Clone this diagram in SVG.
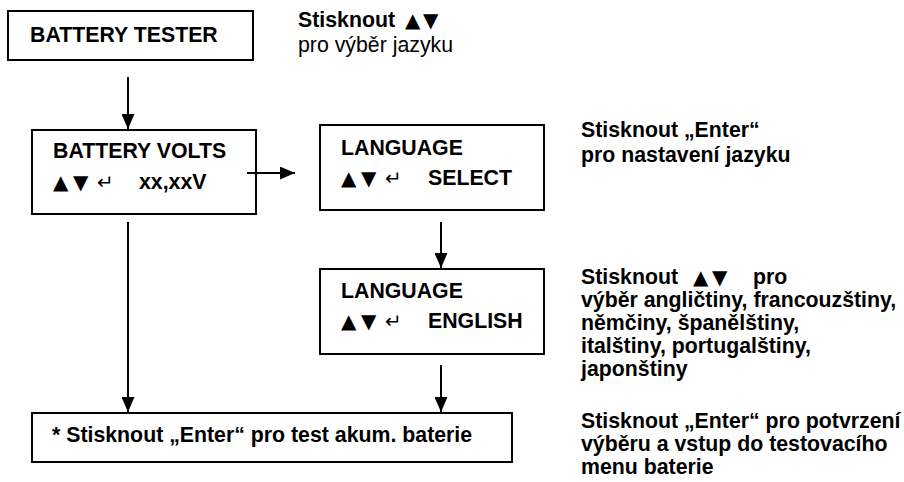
<svg xmlns="http://www.w3.org/2000/svg" width="904" height="482" viewBox="0 0 904 482">
<style>
.box{fill:none;stroke:#000;stroke-width:2}
.t{font-family:"Liberation Sans",Arial,"DejaVu Sans",sans-serif;font-size:21.3px;font-weight:bold;fill:#000}
.r{font-weight:normal}
.sym{font-family:"DejaVu Sans","Liberation Sans",sans-serif;font-size:20px;font-weight:normal}
.conn{stroke:#000;stroke-width:2;fill:none}
</style>
<defs>
<marker id="ah" markerUnits="userSpaceOnUse" viewBox="0 0 15 13" refX="15" refY="6.5" markerWidth="15" markerHeight="13" orient="auto">
<path d="M0,0 L15,6.5 L0,13 Z" fill="#000"/>
</marker>
</defs>
<rect width="904" height="482" fill="#fff"/>
<g id="battery-tester">
<rect class="box" x="8" y="11" width="245" height="49"/>
<text class="t" x="30" y="42">BATTERY TESTER</text>
</g>
<g id="battery-volts">
<rect class="box" x="32" y="130" width="224" height="84"/>
<text class="t" x="53" y="158">BATTERY VOLTS</text>
<text class="t" y="189"><tspan class="sym" x="53">▲</tspan><tspan class="sym" x="73">▼</tspan><tspan class="sym" x="97">↵</tspan><tspan x="139">xx,xxV</tspan></text>
</g>
<g id="language-select">
<rect class="box" x="320" y="125" width="224" height="85"/>
<text class="t" x="341" y="155">LANGUAGE</text>
<text class="t" y="185"><tspan class="sym" x="341">▲</tspan><tspan class="sym" x="361">▼</tspan><tspan class="sym" x="385">↵</tspan><tspan x="428">SELECT</tspan></text>
</g>
<g id="language-english">
<rect class="box" x="320" y="269" width="224" height="85"/>
<text class="t" x="341" y="298">LANGUAGE</text>
<text class="t" y="328"><tspan class="sym" x="341">▲</tspan><tspan class="sym" x="361">▼</tspan><tspan class="sym" x="385">↵</tspan><tspan x="428">ENGLISH</tspan></text>
</g>
<g id="test-battery">
<rect class="box" x="32" y="413" width="480" height="49"/>
<text class="t" x="52" y="442">* Stisknout „Enter“ pro test akum. baterie</text>
</g>
<g id="notes">
<text class="t" x="298" y="27">Stisknout <tspan class="sym" x="405">▲</tspan><tspan class="sym" x="423">▼</tspan></text>
<text class="t r" x="298" y="52">pro výběr jazyku</text>
<text class="t" x="581" y="137">Stisknout „Enter“</text>
<text class="t" x="581" y="162">pro nastavení jazyku</text>
<text class="t" x="581" y="284">Stisknout <tspan class="sym" x="693">▲</tspan><tspan class="sym" x="712">▼</tspan><tspan x="753">pro</tspan></text>
<text class="t" x="581" y="307">výběr angličtiny, francouzštiny,</text>
<text class="t" x="581" y="330">němčiny, španělštiny,</text>
<text class="t" x="581" y="353">italštiny, portugalštiny,</text>
<text class="t" x="581" y="376">japonštiny</text>
<text class="t" x="581" y="428">Stisknout „Enter“ pro potvrzení</text>
<text class="t" x="581" y="451">výběru a vstup do testovacího</text>
<text class="t" x="581" y="474">menu baterie</text>
</g>
<g id="connectors">
<line class="conn" x1="128" y1="77" x2="128" y2="129" marker-end="url(#ah)"/>
<line class="conn" x1="247" y1="173" x2="295" y2="173" marker-end="url(#ah)"/>
<line class="conn" x1="441" y1="222" x2="441" y2="268" marker-end="url(#ah)"/>
<line class="conn" x1="128" y1="222" x2="128" y2="412" marker-end="url(#ah)"/>
<line class="conn" x1="441" y1="365" x2="441" y2="412" marker-end="url(#ah)"/>
</g>
</svg>
